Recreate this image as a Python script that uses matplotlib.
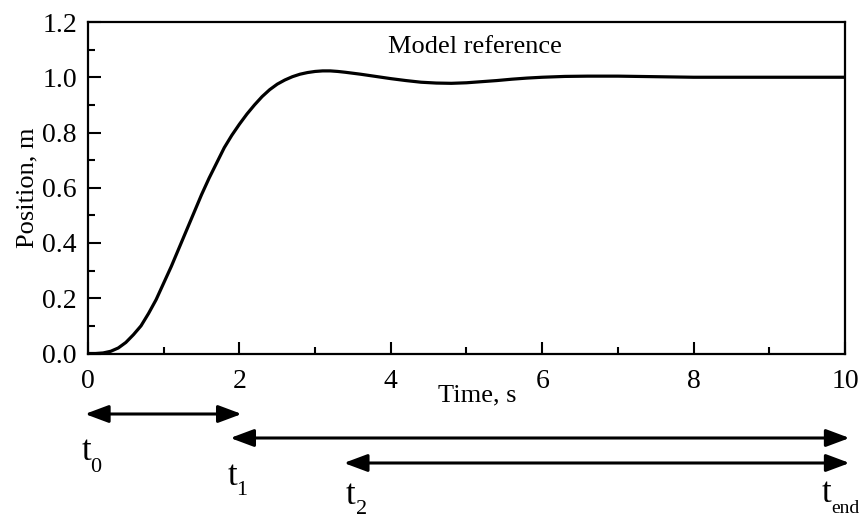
import matplotlib
matplotlib.use("Agg")
import matplotlib.pyplot as plt
from matplotlib.ticker import MultipleLocator

# step response
time_s = [0.0, 0.1, 0.2, 0.3, 0.4, 0.5, 0.6, 0.7, 0.8, 0.9,
          1.0, 1.1, 1.2, 1.3, 1.4, 1.5, 1.6, 1.7, 1.8, 1.9,
          2.0, 2.1, 2.2, 2.3, 2.4, 2.5, 2.6, 2.7, 2.8, 2.9,
          3.0, 3.1, 3.2, 3.3, 3.4, 3.6, 3.8, 4.0, 4.2, 4.4,
          4.6, 4.8, 5.0, 5.2, 5.4, 5.6, 5.8, 6.0, 6.3, 6.6,
          7.0, 7.5, 8.0, 9.0, 10.0]
position_m = [0.0, 0.0, 0.002, 0.008, 0.02, 0.04, 0.068, 0.10, 0.145, 0.195,
              0.255, 0.315, 0.38, 0.445, 0.51, 0.575, 0.635, 0.69, 0.745, 0.79,
              0.83, 0.867, 0.90, 0.93, 0.955, 0.975, 0.99, 1.002, 1.011, 1.017,
              1.021, 1.023, 1.023, 1.021, 1.018, 1.011, 1.003, 0.995, 0.988, 0.982,
              0.979, 0.978, 0.98, 0.984, 0.988, 0.993, 0.997, 1.0, 1.003, 1.004,
              1.004, 1.002, 1.0, 1.0, 1.0]

x_ticks = [0, 2, 4, 6, 8, 10]
y_ticks = [0.0, 0.2, 0.4, 0.6, 0.8, 1.0, 1.2]

# (start, end, figure y) of the interval arrows
intervals = [(-0.04, 2.03, 1 - 414 / 520),
             (1.88, 10.06, 1 - 438 / 520),
             (3.38, 10.06, 1 - 463 / 520)]

plt.rcParams["font.family"] = ["Liberation Serif", "DejaVu Serif"]
plt.rcParams["font.size"] = 19

fig = plt.figure(figsize=(8.62, 5.2), dpi=100)
ax = fig.add_axes([88 / 862, 1 - 353.5 / 520, 757 / 862, 331.5 / 520])

ax.plot(time_s, position_m, color="black", linewidth=2.3)
ax.set_xlim(0, 10)
ax.set_ylim(0, 1.2)
ax.set_xticks(x_ticks)
ax.set_xticklabels([str(v) for v in x_ticks])
ax.set_yticks(y_ticks)
ax.set_yticklabels([f"{v:.1f}" for v in y_ticks])
ax.xaxis.set_minor_locator(MultipleLocator(1))
ax.yaxis.set_minor_locator(MultipleLocator(0.1))
ax.tick_params(which="both", direction="in", top=False, right=False, width=1.5,
               labelsize=20)
ax.tick_params(which="major", length=9)
ax.tick_params(which="minor", length=5)
ax.tick_params(axis="x", pad=11)
ax.tick_params(axis="y", pad=8)
for spine in ax.spines.values():
    spine.set_linewidth(1.6)

ax.set_xlabel("Time, s")
ax.xaxis.set_label_coords(0.514, -0.092)
ax.set_ylabel("Position, m")
ax.yaxis.set_label_coords(-0.066, 0.5)

ax.text(5.11, 1.11, "Model reference", ha="center", va="center", fontsize=19)

for start, end, fy in intervals:
    ax.annotate("", xy=(end, fy), xytext=(start, fy),
                xycoords=("data", "figure fraction"),
                textcoords=("data", "figure fraction"),
                arrowprops=dict(arrowstyle="<|-|>,head_length=0.75,head_width=0.28",
                                color="black", linewidth=2.2,
                                shrinkA=0, shrinkB=0),
                annotation_clip=False)

# interval labels: main letter, subscript and its size
labels = [("0", 82, 460, 90, 472, 16),
          ("1", 228, 485, 236, 495, 16),
          ("2", 346, 504, 356, 514, 16),
          ("end", 822, 502, 831, 513, 14)]
for sub, tx, ty, sx, sy, size in labels:
    fig.text(tx / 862, 1 - ty / 520, "t", fontsize=25, ha="left", va="baseline")
    fig.text(sx / 862, 1 - sy / 520, sub, fontsize=size, ha="left", va="baseline")

fig.savefig("out.png", dpi=100)
